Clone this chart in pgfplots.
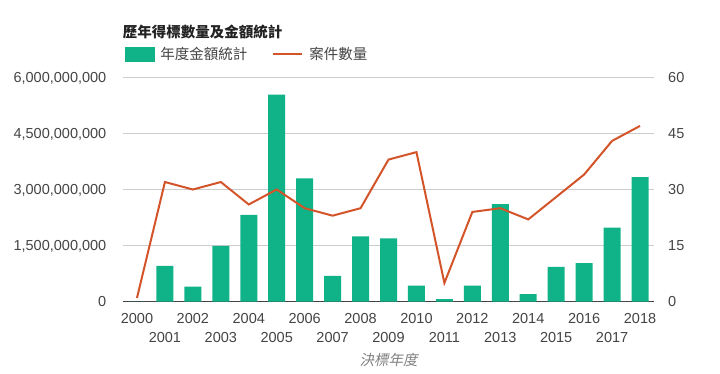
\documentclass[border=0pt]{standalone}
\usepackage{pgfplots}
\pgfplotsset{compat=1.18}
\usepackage{fontspec}
\setmainfont{Liberation Sans}
\newfontfamily\cjk{Noto Sans CJK TC}
\newfontfamily\cjkit[FakeSlant=0.2]{Noto Sans CJK TC}
\definecolor{barc}{RGB}{16,179,135}
\definecolor{linec}{RGB}{212,84,42}
\definecolor{gridc}{RGB}{204,204,204}
\definecolor{txt}{RGB}{68,68,68}
\definecolor{ttl}{RGB}{34,34,34}
\begin{document}
\begin{tikzpicture}
\useasboundingbox (0,0) rectangle (720pt,373pt);
\begin{axis}[
  at={(123pt,71.3pt)}, anchor=south west,
  scale only axis, width=531pt, height=224.4pt,
  xmin=-0.5, xmax=18.5, ymin=0, ymax=6000000000,
  scaled y ticks=false,
  axis x line*=bottom, axis y line*=left,
  x axis line style={draw=txt, line width=1pt, -},
  y axis line style={draw=none},
  major tick length=0pt,
  ytick={0,1500000000,3000000000,4500000000,6000000000},
  yticklabels={0,{1,500,000,000},{3,000,000,000},{4,500,000,000},{6,000,000,000}},
  ymajorgrids, grid style={gridc, line width=1pt},
  yticklabel style={font=\fontsize{14.5}{17}\selectfont, text=txt, inner sep=0pt, anchor=base east, xshift=-16.5pt, yshift=-5.2pt},
  xtick={0,2,...,18},
  xticklabels={2000,2002,2004,2006,2008,2010,2012,2014,2016,2018},
  extra x ticks={1,3,...,17},
  extra x tick labels={2001,2003,2005,2007,2009,2011,2013,2015,2017},
  extra x tick style={grid=none, tick label style={yshift=-19pt}},
  xticklabel style={font=\fontsize{14.5}{17}\selectfont, text=txt, inner sep=0pt, anchor=north, yshift=-11pt},
  /pgf/number format/assume math mode=true,
  xlabel={\cjkit 決標年度},
  xlabel style={at={(axis description cs:0.5,0)}, anchor=center, yshift=-58.3pt, font=\fontsize{14.5}{17}\selectfont, text=gray},
]
\addplot[ybar, bar width=17pt, fill=barc, draw=none] coordinates {
(0,0) (1,960000000) (2,400000000) (3,1490000000) (4,2320000000) (5,5540000000)
(6,3300000000) (7,690000000) (8,1750000000) (9,1690000000) (10,430000000)
(11,70000000) (12,430000000) (13,2610000000) (14,200000000) (15,930000000)
(16,1030000000) (17,1980000000) (18,3330000000)};
\end{axis}
\begin{axis}[
  at={(123pt,71.3pt)}, anchor=south west,
  scale only axis, width=531pt, height=224.4pt,
  xmin=-0.5, xmax=18.5, ymin=0, ymax=60,
  axis x line=none, axis y line*=right,
  y axis line style={draw=none},
  major tick length=0pt,
  ytick={0,15,30,45,60},
  yticklabel style={font=\fontsize{14.5}{17}\selectfont, text=txt, inner sep=0pt, anchor=base west, xshift=14pt, yshift=-5.2pt},
  /pgf/number format/assume math mode=true,
  legend columns=2,
  legend style={draw=none, fill=none, at={(rel axis cs:-0.0025,1.104)}, anchor=west,
    nodes={inner sep=0pt, font=\cjk\fontsize{14.5}{17}\selectfont, text=txt},
    /tikz/every odd column/.append style={column sep=6pt},
    /tikz/every even column/.append style={column sep=25pt}},
]
\addlegendimage{area legend, legend image code/.code={\fill[barc] (0pt,-7pt) rectangle (29pt,7pt);}}
\addlegendentry{年度金額統計}
\addplot[linec, line width=2pt, mark=none, legend image code/.code={\draw[linec, line width=2pt] (0pt,0pt) -- (29pt,0pt);}] coordinates {
(0,1) (1,32) (2,30) (3,32) (4,26) (5,30) (6,25) (7,23) (8,25) (9,38) (10,40)
(11,5) (12,24) (13,25) (14,22) (15,28) (16,34) (17,43) (18,47)};
\addlegendentry{案件數量}
\end{axis}
\node[anchor=west, inner sep=0pt, text=ttl, font=\cjk\bfseries\fontsize{14.5}{17}\selectfont] at (122.7pt,341pt) {歷年得標數量及金額統計};
\end{tikzpicture}
\end{document}
